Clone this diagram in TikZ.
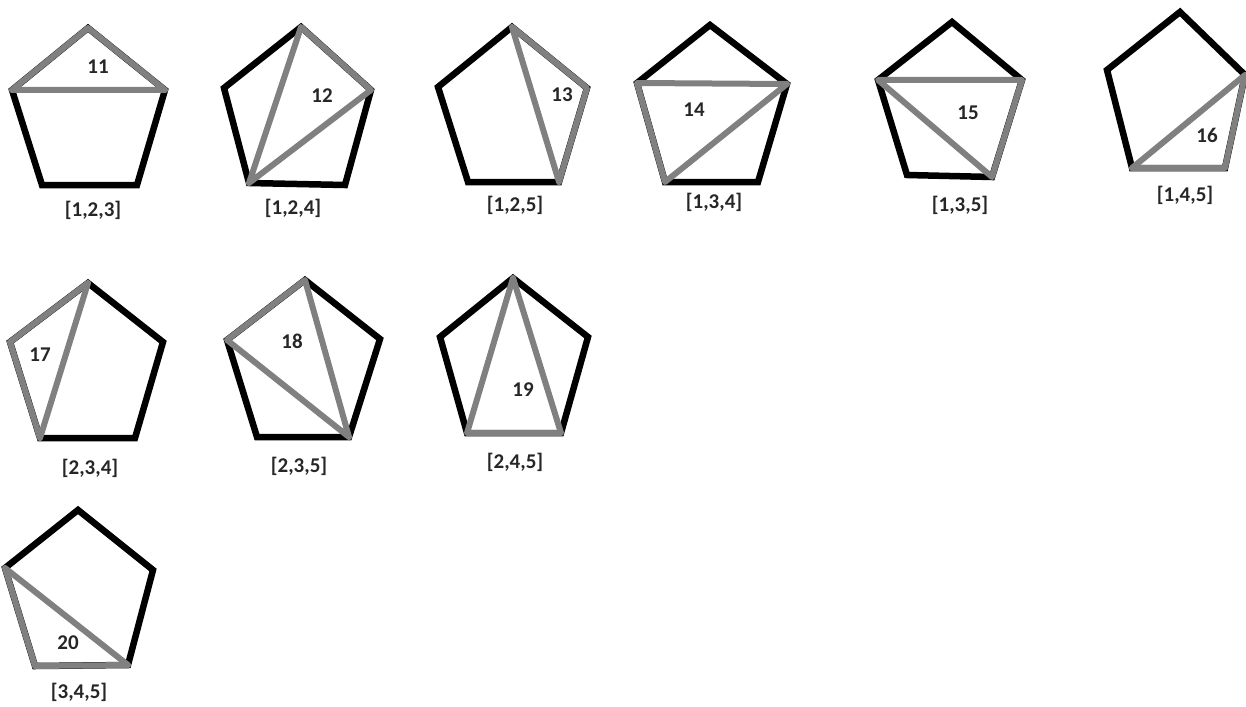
\documentclass[tikz,border=0pt]{standalone}
\usepackage{fontspec}
\setmainfont{Carlito}

% corners 1..5 run counterclockwise, starting at the upper right one
\newcommand{\pentagon}[6]{
  \coordinate (#1-1) at #2;
  \coordinate (#1-2) at #3;
  \coordinate (#1-3) at #4;
  \coordinate (#1-4) at #5;
  \coordinate (#1-5) at #6;
  \draw[rim] (#1-1) -- (#1-2) -- (#1-3) -- (#1-4) -- (#1-5) -- cycle;
}

\begin{document}
\begin{tikzpicture}[x=1pt,y=-1pt,
  rim/.style={black,line width=6.5},
  tri/.style={gray,line width=6,line join=round},
  num/.style={text=black!85,font=\fontsize{21}{25}\selectfont\bfseries,inner sep=0pt}]

\useasboundingbox (0,0) rectangle (1246,706);

%first row
\pentagon{a}{(165,90)}{(88,28)}{(12,90)}{(42,185)}{(137,185)}
\draw[tri] (a-1) -- (a-2) -- (a-3) -- cycle;
\node[num] (na) at (98,67) {11};
\node[num] (la) at (93,210) {[1,2,3]};

\pentagon{b}{(371,90)}{(301,27)}{(224,88)}{(249,183)}{(345,185)}
\draw[tri] (b-1) -- (b-2) -- (b-4) -- cycle;
\node[num] (nb) at (322,96) {12};
\node[num] (lb) at (293,208) {[1,2,4]};

\pentagon{c}{(587,88)}{(512,27)}{(438,87)}{(468,182)}{(559,182)}
\draw[tri] (c-1) -- (c-2) -- (c-5) -- cycle;
\node[num] (nc) at (562,95) {13};
\node[num] (lc) at (515,205) {[1,2,5]};

\pentagon{d}{(787,84)}{(710,25)}{(637,83)}{(665,182)}{(758,182)}
\draw[tri] (d-1) -- (d-3) -- (d-4) -- cycle;
\node[num] (nd) at (694,110) {14};
\node[num] (ld) at (714,202) {[1,3,4]};

\pentagon{e}{(1022,80)}{(952,22)}{(878,80)}{(907,175)}{(992,177)}
\draw[tri] (e-1) -- (e-3) -- (e-5) -- cycle;
\node[num] (ne) at (968,113) {15};
\node[num] (le) at (960,205) {[1,3,5]};

\pentagon{f}{(1245,75)}{(1180,12)}{(1107,70)}{(1132,168)}{(1225,168)}
\draw[tri] (f-1) -- (f-4) -- (f-5) -- cycle;
\node[num] (nf) at (1207,135) {16};
\node[num] (lf) at (1185,195) {[1,4,5]};

%second row
\pentagon{g}{(163,342)}{(88,283)}{(10,342)}{(40,438)}{(135,438)}
\draw[tri] (g-2) -- (g-3) -- (g-4) -- cycle;
\node[num] (ng) at (40,355) {17};
\node[num] (lg) at (90,468) {[2,3,4]};

\pentagon{h}{(380,339)}{(305,280)}{(227,340)}{(257,437)}{(349,437)}
\draw[tri] (h-2) -- (h-3) -- (h-5) -- cycle;
\node[num] (nh) at (292,341) {18};
\node[num] (lh) at (299,466) {[2,3,5]};

\pentagon{i}{(588,337)}{(513,278)}{(440,337)}{(467,433)}{(561,433)}
\draw[tri] (i-2) -- (i-4) -- (i-5) -- cycle;
\node[num] (ni) at (523,390) {19};
\node[num] (li) at (515,462) {[2,4,5]};

%third row
\pentagon{j}{(153,570)}{(78,510)}{(5,568)}{(35,666)}{(128,665)}
\draw[tri] (j-3) -- (j-4) -- (j-5) -- cycle;
\node[num] (nj) at (68,643) {20};
\node[num] (lj) at (79,692) {[3,4,5]};

\end{tikzpicture}
\end{document}
